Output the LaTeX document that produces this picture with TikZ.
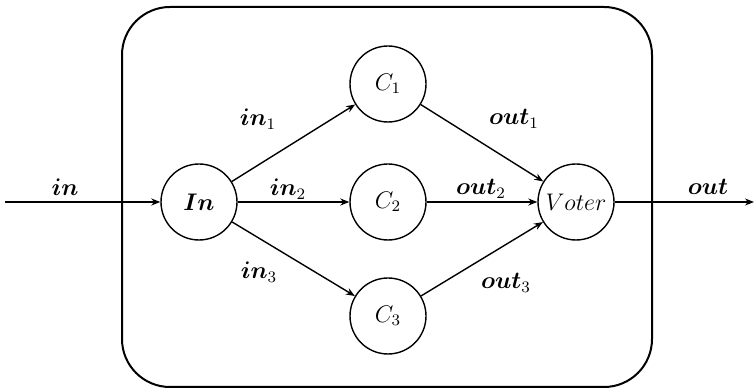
\documentclass[tikz,border=0pt]{standalone}
\usepackage{bm}
\usetikzlibrary{arrows.meta}
\begin{document}
\begin{tikzpicture}[x=0.5pt,y=-0.5pt,
  proc/.style={circle,draw,line width=0.7pt,minimum size=38pt,inner sep=0pt,font=\large},
  conn/.style={line width=0.7pt,-{Stealth[length=4.5pt,width=3.5pt]}},
  lbl/.style={font=\large,inner sep=0pt}]
\useasboundingbox (0,0) rectangle (755,389);
\draw[line width=1pt,rounded corners=24pt] (122,7) rectangle (652,387);
\node[proc] (In) at (199,202) {$\bm{In}$};
\node[proc] (C1) at (388,84) {$C_1$};
\node[proc] (C2) at (388,202) {$C_2$};
\node[proc] (C3) at (388,316) {$C_3$};
\node[proc] (V) at (576,202) {$Voter$};
\coordinate (src) at (5,202);
\coordinate (dst) at (754,202);
\draw[conn] (src) -- (In);
\draw[conn] (In) -- (C1);
\draw[conn] (In) -- (C2);
\draw[conn] (In) -- (C3);
\draw[conn] (C1) -- (V);
\draw[conn] (C2) -- (V);
\draw[conn] (C3) -- (V);
\draw[conn] (V) -- (dst);
\node[lbl] (lin) at (65,187) {$\bm{in}$};
\node[lbl] (lin1) at (258,119) {$\bm{in}_1$};
\node[lbl] (lin2) at (288,189) {$\bm{in}_2$};
\node[lbl] (lin3) at (259,272) {$\bm{in}_3$};
\node[lbl] (lout1) at (514,119) {$\bm{out}_1$};
\node[lbl] (lout2) at (481,189) {$\bm{out}_2$};
\node[lbl] (lout3) at (506,283) {$\bm{out}_3$};
\node[lbl] (lout) at (708,187) {$\bm{out}$};
\end{tikzpicture}
\end{document}
